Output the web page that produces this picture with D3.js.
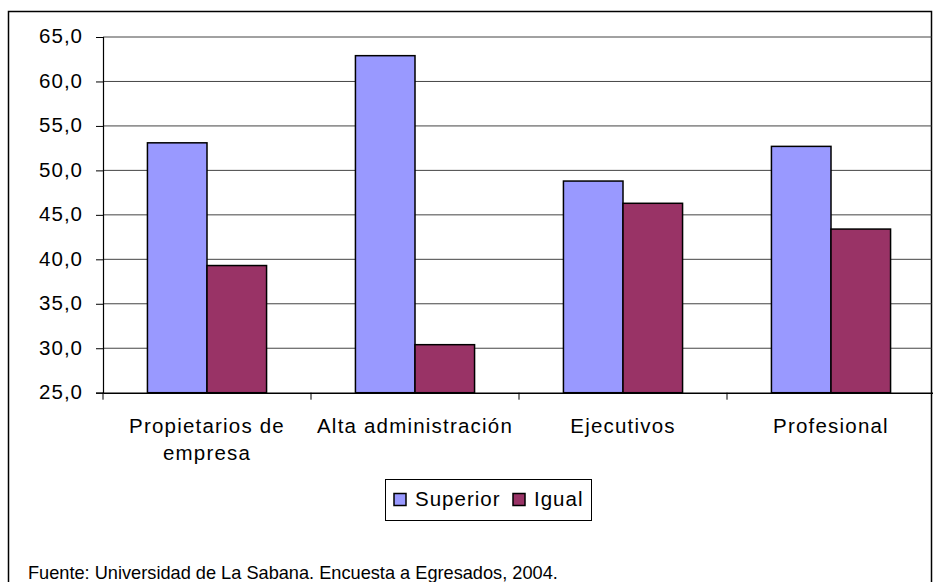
<!DOCTYPE html>
<html>
<head>
<meta charset="utf-8">
<script src="https://cdn.jsdelivr.net/npm/d3@7"></script>
<style>
  html, body { margin: 0; padding: 0; background: #fff; }
  svg { display: block; font-family: "Liberation Sans", Arial, sans-serif; }
</style>
</head>
<body>
<svg id="chart" width="933" height="582"></svg>
<script>
const categories = ["Propietarios de empresa", "Alta administración", "Ejecutivos", "Profesional"];
const seriesNames = ["Superior", "Igual"];
const superiorValues = [53.1, 62.9, 48.8, 52.7];
const igualValues = [39.3, 30.4, 46.3, 43.4];
const yTicks = [25, 30, 35, 40, 45, 50, 55, 60, 65];
const colors = ["#9999FF", "#993366"];
const sourceText = "Fuente: Universidad de La Sabana. Encuesta a Egresados, 2004.";

const seriesValues = [superiorValues, igualValues];
const svg = d3.select("#chart");

// frame
svg.append("rect")
  .attr("x", 8.5).attr("y", 11.5)
  .attr("width", 923).attr("height", 620)
  .attr("fill", "#fff").attr("stroke", "#000").attr("stroke-width", 1.5);

const plot = { left: 103, right: 935, top: 37, bottom: 392.7 };

const x0 = d3.scaleBand().domain(categories).range([plot.left, plot.right]).paddingInner(0).paddingOuter(0);
const x1 = d3.scaleBand().domain(seriesNames).range([0, x0.bandwidth()]).paddingInner(0).paddingOuter(0.746);
const y = d3.scaleLinear().domain([25, 65]).range([plot.bottom, plot.top]);

const fmt = v => d3.format(".1f")(v).replace(".", ",");

// gridlines
svg.append("g")
  .selectAll("line").data(yTicks.filter(t => t !== 25)).join("line")
  .attr("x1", plot.left).attr("x2", 931.5)
  .attr("y1", d => y(d)).attr("y2", d => y(d))
  .attr("stroke", "#444").attr("stroke-width", 1);

// y axis
const yAxis = svg.append("g")
  .attr("transform", `translate(${plot.left},0)`)
  .call(d3.axisLeft(y).tickValues(yTicks).tickFormat(fmt).tickSize(7).tickPadding(13));
yAxis.select(".domain").attr("stroke", "#000").attr("stroke-width", 1.2);
yAxis.selectAll(".tick line").attr("stroke", "#000");
yAxis.selectAll(".tick text")
  .attr("font-size", 20.5).attr("fill", "#000")
  .attr("letter-spacing", "1px")
  .attr("dy", "0.29em")
  .attr("font-family", "'Liberation Sans', Arial, sans-serif");

// bars
const groups = svg.append("g").selectAll("g").data(categories).join("g")
  .attr("transform", d => `translate(${x0(d)},0)`);
groups.selectAll("rect")
  .data((c, i) => seriesNames.map((s, j) => ({ s, j, v: seriesValues[j][i] })))
  .join("rect")
  .attr("x", d => x1(d.s))
  .attr("width", x1.bandwidth())
  .attr("y", d => y(d.v))
  .attr("height", d => plot.bottom - y(d.v))
  .attr("fill", d => colors[d.j])
  .attr("stroke", "#000").attr("stroke-width", 1.5);

// x axis
const xAxis = svg.append("g")
  .attr("transform", `translate(0,${plot.bottom})`)
  .call(d3.axisBottom(x0).tickSize(0).tickFormat(""));
xAxis.select(".domain").attr("stroke", "#000").attr("stroke-width", 1.5);
// category boundary ticks
svg.append("g").selectAll("line")
  .data(categories).join("line")
  .attr("x1", d => x0(d)).attr("x2", d => x0(d))
  .attr("y1", plot.bottom).attr("y2", plot.bottom + 7)
  .attr("stroke", "#000");

// category labels with wrapping
const labels = svg.append("g").selectAll("text").data(categories).join("text")
  .attr("x", d => x0(d) + x0.bandwidth() / 2)
  .attr("y", 433)
  .attr("text-anchor", "middle")
  .attr("font-size", 20.5)
  .attr("letter-spacing", "1.2px")
  .attr("fill", "#000");
labels.each(function (d) {
  const t = d3.select(this);
  const words = d.split(" ");
  let line = [];
  let tspan = t.append("tspan").attr("x", x0(d) + x0.bandwidth() / 2).attr("dy", 0);
  words.forEach(w => {
    line.push(w);
    tspan.text(line.join(" "));
    if (tspan.node().getComputedTextLength() > 202 && line.length > 1) {
      line.pop();
      tspan.text(line.join(" "));
      line = [w];
      tspan = t.append("tspan").attr("x", x0(d) + x0.bandwidth() / 2).attr("dy", 27).text(w);
    }
  });
});

// legend
const legend = svg.append("g");
legend.append("rect")
  .attr("x", 385.5).attr("y", 479.5).attr("width", 206).attr("height", 41)
  .attr("fill", "#fff").attr("stroke", "#000").attr("stroke-width", 1);
const legendX = [394, 513];
seriesNames.forEach((s, j) => {
  legend.append("rect")
    .attr("x", legendX[j]).attr("y", 493.5).attr("width", 12).attr("height", 12)
    .attr("fill", colors[j]).attr("stroke", "#000").attr("stroke-width", 1.5);
  legend.append("text")
    .attr("x", legendX[j] + 21).attr("y", 506)
    .attr("font-size", 20.5).attr("letter-spacing", "1px").attr("fill", "#000")
    .text(s);
});

// source
svg.append("text")
  .attr("x", 28).attr("y", 579)
  .attr("font-size", 18.2).attr("fill", "#000")
  .text(sourceText);
</script>
</body>
</html>
